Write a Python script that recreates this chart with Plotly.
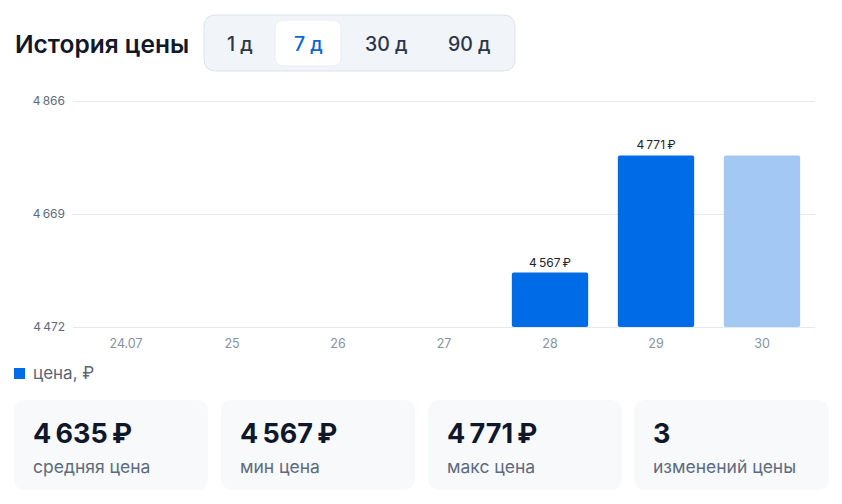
import plotly.graph_objects as go

# ---------------- data ----------------
categories = ["24.07", "25", "26", "27", "28", "29", "30"]
prices = [None, None, None, None, 4567, 4771, 4771]
is_current = [False, False, False, False, False, False, True]
y_ticks = [4472, 4669, 4866]
periods = ["1 д", "7 д", "30 д", "90 д"]
selected_period = "7 д"
stat_values = ["4\u2009635\u2009₽", "4\u2009567\u2009₽", "4\u2009771\u2009₽", "3"]
stat_labels = ["средняя цена", "мин цена", "макс цена", "изменений цены"]
title_text = "История цены"
legend_text = "цена, ₽"

FONT = "Inter, 'Noto Sans', sans-serif"
BLUE = "#006be6"
LIGHT = "#a4c8f4"


def fmt(v):
    return f"{int(v):,}".replace(",", "\u2009")


# figure and plot-area geometry in pixels
W, H = 842, 504
PL, PR = 73, 815
GRID_TOP, GRID_BOT = 101, 327      # pixel rows of first/last gridline
PADPX = 3                          # extra room so edge gridlines are not clipped
PT, PB = GRID_TOP - PADPX, GRID_BOT + PADPX
span = y_ticks[-1] - y_ticks[0]
dval = span / (GRID_BOT - GRID_TOP) * PADPX
y_range = [y_ticks[0] - dval, y_ticks[-1] + dval]
bar_base = y_ticks[0]


def px(x):
    return (x - PL) / (PR - PL)


def py(y):
    return (PB - y) / (PB - PT)


def rrect(x0, y0, x1, y1, r):
    pts = [
        f"M {px(x0 + r)},{py(y0)}",
        f"L {px(x1 - r)},{py(y0)}",
        f"Q {px(x1)},{py(y0)} {px(x1)},{py(y0 + r)}",
        f"L {px(x1)},{py(y1 - r)}",
        f"Q {px(x1)},{py(y1)} {px(x1 - r)},{py(y1)}",
        f"L {px(x0 + r)},{py(y1)}",
        f"Q {px(x0)},{py(y1)} {px(x0)},{py(y1 - r)}",
        f"L {px(x0)},{py(y0 + r)}",
        f"Q {px(x0)},{py(y0)} {px(x0 + r)},{py(y0)}",
        "Z",
    ]
    return " ".join(pts)


colors = [LIGHT if c else BLUE for c in is_current]
texts = ["" if (v is None or c) else f"{fmt(v)}\u2009₽" for v, c in zip(prices, is_current)]
heights = [None if v is None else v - bar_base for v in prices]

fig = go.Figure()
fig.add_trace(go.Bar(
    x=categories, y=heights, base=bar_base,
    marker=dict(color=colors, line=dict(width=0)),
    text=texts, textposition="outside",
    textfont=dict(family=FONT, size=12, color="#1a2433"),
    cliponaxis=False, showlegend=False, hoverinfo="skip",
))

shapes = []
annotations = []

# tab group
shapes.append(dict(type="path", xref="paper", yref="paper", path=rrect(204, 15, 515, 71, 12),
                   fillcolor="#f1f4f8", line=dict(color="#dde3ea", width=1), layer="above"))
shapes.append(dict(type="path", xref="paper", yref="paper", path=rrect(275, 20, 341, 66, 8),
                   fillcolor="#ffffff", line=dict(color="#e8ecf1", width=1), layer="above"))
tab_x = [240, 308, 386, 470]
for t, x in zip(periods, tab_x):
    annotations.append(dict(xref="paper", yref="paper", x=px(x), y=py(44), text=t,
                            showarrow=False, xanchor="center", yanchor="middle",
                            font=dict(family=FONT, size=19.5,
                                      color="#0a66d8" if t == selected_period else "#2b3648",
                                      weight=500)))

# title
annotations.append(dict(xref="paper", yref="paper", x=px(13), y=py(44), text=title_text, showarrow=False,
                        xanchor="left", yanchor="middle",
                        font=dict(family=FONT, size=24.5, color="#111827", weight=600)))

# legend
shapes.append(dict(type="rect", xref="paper", yref="paper", x0=px(14), x1=px(25), y0=py(368), y1=py(379),
                   fillcolor=BLUE, line=dict(width=0)))
annotations.append(dict(xref="paper", yref="paper", x=px(31), y=py(373), text=legend_text, showarrow=False,
                        xanchor="left", yanchor="middle", font=dict(family=FONT, size=17, color="#5a6578")))

# stat cards
card_x = [(14, 208), (221, 415), (428, 622), (634, 829)]
for (x0, x1), v, lab in zip(card_x, stat_values, stat_labels):
    shapes.append(dict(type="path", xref="paper", yref="paper", path=rrect(x0, 400, x1, 490, 12),
                       fillcolor="#f7f9fb", line=dict(width=0)))
    annotations.append(dict(xref="paper", yref="paper", x=px(x0 + 17), y=py(433), text=v, showarrow=False,
                            xanchor="left", yanchor="middle",
                            font=dict(family=FONT, size=27, color="#0f172a", weight=700)))
    annotations.append(dict(xref="paper", yref="paper", x=px(x0 + 17), y=py(466), text=lab, showarrow=False,
                            xanchor="left", yanchor="middle",
                            font=dict(family=FONT, size=17.5, color="#5d6b80")))

fig.update_layout(
    width=W, height=H,
    margin=dict(l=PL, r=W - PR, t=PT, b=H - PB, pad=0),
    paper_bgcolor="#ffffff", plot_bgcolor="#ffffff",
    bargap=0.28, barcornerradius=2,
    font=dict(family=FONT),
    shapes=shapes, annotations=annotations,
    xaxis=dict(type="category", showgrid=False, zeroline=False, showline=False, ticks="",
               tickfont=dict(family=FONT, size=12.5, color="#8592a6"), ticklabelstandoff=4,
               fixedrange=True),
    yaxis=dict(range=y_range, tickvals=y_ticks, ticktext=[fmt(v) for v in y_ticks],
               showgrid=True, gridcolor="#e6e9ee", gridwidth=1, zeroline=False, showline=False, ticks="",
               tickfont=dict(family=FONT, size=12, color="#5c6b80"), ticklabelstandoff=7,
               fixedrange=True),
)

fig.write_html("out.html", config={"displayModeBar": False})
